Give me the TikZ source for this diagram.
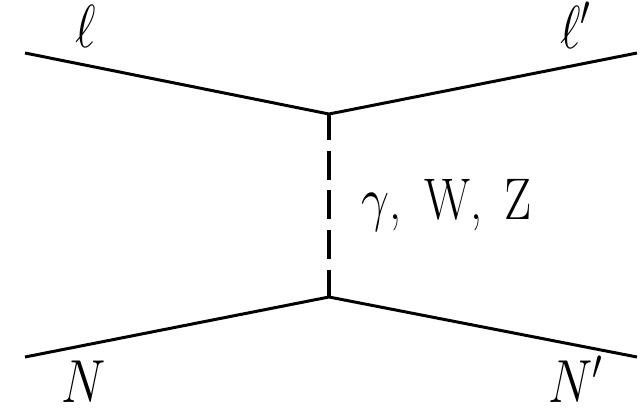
\documentclass[tikz,border=0pt]{standalone}
\usepackage{amsmath}
\usepackage{amssymb}

% narrow the labels a little
\newcommand{\narrow}[1]{\scalebox{0.82}[1]{#1}}

\begin{document}
\begin{tikzpicture}[x=0.01cm, y=-0.01cm,
    fermion/.style={line width=0.85pt},
    boson/.style={line width=1.1pt, dash pattern=on 8.2pt off 3.1pt, dash phase=0.85pt},
    lbl/.style={font=\fontsize{16.7}{20}\selectfont, anchor=base, inner sep=0pt}]

    \useasboundingbox (0,0) rectangle (641,408);

    % Vertices
    \coordinate (vtop) at (329,114);
    \coordinate (vbot) at (329,297);

    % External ends
    \coordinate (lin)  at (25,53);
    \coordinate (lout) at (637,53);
    \coordinate (nin)  at (25,357);
    \coordinate (nout) at (637,357);

    % Lepton line
    \draw[fermion] (lin) -- (vtop) -- (lout);

    % Nucleon line
    \draw[fermion] (nin) -- (vbot) -- (nout);

    % Exchanged boson
    \draw[boson] (vtop) -- (vbot);

    % Labels
    \node[lbl] (llab)  at (86,47)  {\narrow{$\ell$}};
    \node[lbl] (lplab) at (576,48) {\narrow{$\ell'$}};
    \node[lbl] (nlab)  at (84,402) {\narrow{$N$}};
    \node[lbl] (nplab) at (576,402) {\narrow{$N'$}};
    \node[lbl, anchor=base west] (blab) at (361,219) {\narrow{$\gamma$,\, W,\, Z}};

\end{tikzpicture}
\end{document}
